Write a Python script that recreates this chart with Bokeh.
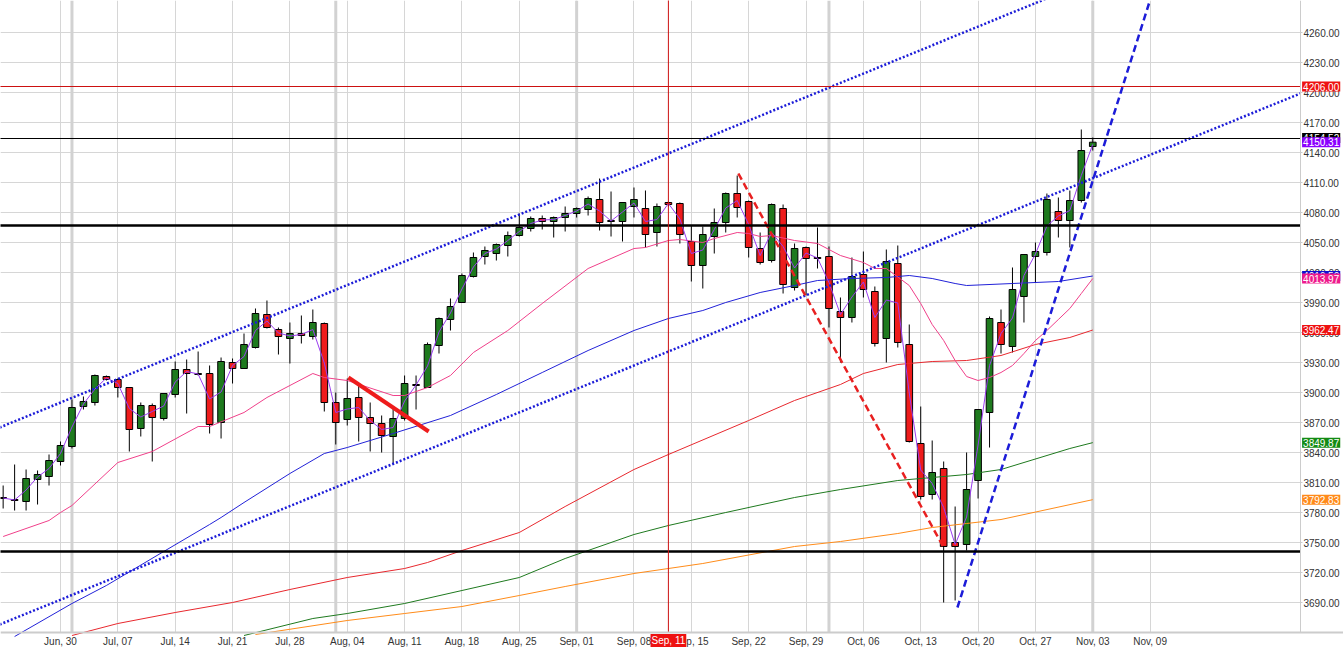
from bokeh.plotting import figure
from bokeh.models import (Range1d, FixedTicker, PrintfTickFormatter, Span, Label, ColumnDataSource,
                          LinearAxis, Grid, BoxAnnotation)
from bokeh.embed import file_html
from bokeh.resources import INLINE

# ---------------- data ----------------
# trading-day index (0 = Jun 30), weekdays only
days = list(range(-5, 91))
opens = [3795, 3793, 3791, 3813, 3816, 3831, 3846, 3886, 3890, 3916,
         3913, 3905, 3864, 3887, 3874, 3898, 3923, 3918, 3919, 3870,
         3930, 3924, 3945, 3978, 3963, 3954, 3959, 3956, 3969, 3890,
         3873, 3895, 3875, 3869, 3856, 3874, 3908, 3905, 3947, 3973,
         3990, 4016, 4036, 4039, 4047, 4057, 4064, 4074, 4071, 4075,
         4079, 4083, 4093, 4072, 4071, 4086, 4084, 4060, 4090, 4089,
         4051, 4027, 4056, 4070, 4099, 4091, 4044, 4032, 4084, 4005,
         4045, 4035, 4036, 3981, 3975, 4018, 4001, 3954, 4029, 3948,
         3849, 3798, 3824, 3750, 3748, 3812, 3880, 3970, 3946, 3996,
         4036, 4040, 4081, 4072, 4092, 4146]
highs = [3807, 3828, 3823, 3822, 3838, 3851, 3893, 3896, 3918, 3917,
         3914, 3905, 3890, 3889, 3899, 3931, 3933, 3941, 3927, 3935,
         3934, 3959, 3984, 3992, 3965, 3970, 3977, 3983, 3970, 3900,
         3914, 3909, 3890, 3877, 3886, 3917, 3917, 3950, 3975, 3994,
         4019, 4040, 4046, 4049, 4061, 4079, 4076, 4077, 4076, 4086,
         4085, 4096, 4114, 4101, 4090, 4105, 4102, 4089, 4091, 4090,
         4067, 4066, 4084, 4100, 4117, 4092, 4060, 4089, 4088, 4049,
         4046, 4065, 4046, 3995, 4035, 4041, 4006, 4043, 4047, 3968,
         3886, 3852, 3831, 3786, 3840, 3883, 3976, 3983, 4025, 4038,
         4050, 4099, 4095, 4102, 4163, 4155]
lows = [3784, 3782, 3782, 3788, 3807, 3827, 3844, 3883, 3887, 3912,
        3895, 3841, 3856, 3831, 3872, 3895, 3879, 3917, 3859, 3854,
        3909, 3924, 3944, 3964, 3938, 3929, 3949, 3953, 3881, 3848,
        3867, 3851, 3841, 3840, 3828, 3872, 3883, 3905, 3939, 3962,
        3990, 4015, 4028, 4032, 4036, 4056, 4061, 4063, 4055, 4061,
        4075, 4077, 4062, 4056, 4051, 4075, 4045, 4046, 4086, 4049,
        4011, 4004, 4039, 4060, 4075, 4035, 4028, 4030, 3999, 4002,
        3997, 4024, 3965, 3930, 3970, 3995, 3946, 3930, 3945, 3850,
        3793, 3793, 3690, 3692, 3742, 3794, 3845, 3939, 3940, 3970,
        4010, 4037, 4055, 4045, 4090, 4142]
closes = [3794, 3792, 3814, 3818, 3832, 3847, 3885, 3891, 3917, 3913,
          3905, 3863, 3887, 3875, 3899, 3923, 3919, 3919, 3868, 3931,
          3924, 3948, 3979, 3965, 3956, 3959, 3957, 3970, 3890, 3870,
          3894, 3875, 3869, 3857, 3874, 3909, 3907, 3948, 3974, 3986,
          4017, 4035, 4042, 4048, 4057, 4065, 4074, 4071, 4075, 4079,
          4084, 4094, 4070, 4071, 4090, 4093, 4058, 4086, 4088, 4058,
          4027, 4058, 4070, 4099, 4085, 4045, 4030, 4088, 4008, 4044,
          4034, 4034, 3984, 3975, 4016, 4003, 3949, 4031, 3950, 3851,
          3796, 3820, 3746, 3746, 3803, 3883, 3974, 3948, 4003, 4038,
          4041, 4093, 4072, 4092, 4142, 4150.31]

# moving averages (day index, value)
ma_pink_days = [-5, -1, 0, 1, 5, 8, 12, 13, 16, 18, 22, 23, 25, 29, 30, 32, 34, 36, 39, 42,
                46, 48, 50, 51, 53, 54, 56, 57, 59, 60, 61, 62, 64, 66, 68, 70, 71, 72, 74,
                75, 76, 77, 78, 79, 80, 81, 82, 83, 84, 85, 86, 87, 88, 89, 90]
ma_pink_vals = [3756, 3772, 3780, 3787, 3830, 3841, 3866, 3866, 3880, 3895, 3919, 3915, 3912,
                3897, 3897, 3905, 3917, 3940, 3962, 3989, 4024, 4034, 4044, 4045, 4052, 4053,
                4050, 4054, 4060, 4059, 4056, 4057, 4052, 4049, 4037, 4030, 4024, 4024, 4007,
                3989, 3968, 3952, 3932, 3916, 3912, 3915, 3920, 3927, 3939, 3952, 3962, 3973,
                3984, 3999, 4013.97]
ma_blue_days = [-4, 1, 4, 9, 13, 14, 16, 20, 23, 25, 29, 34, 38, 42, 46, 50, 53, 56, 58, 61,
                64, 66, 69, 72, 74, 76, 78, 79, 83, 87, 90]
ma_blue_vals = [3656, 3689, 3707, 3741, 3768, 3775, 3790, 3819, 3839, 3845, 3859, 3877, 3898,
                3920, 3942, 3962, 3974, 3982, 3990, 4000, 4007, 4012, 4014, 4015, 4017, 4014,
                4009, 4007, 4009, 4011, 4016.5]
ma_red_days = [1, 5, 10, 15, 20, 25, 30, 32, 35, 40, 44, 50, 53, 60, 64, 68, 70, 73, 76, 79,
               82, 85, 88, 90]
ma_red_vals = [3657, 3669, 3680, 3690, 3703, 3715, 3724, 3730, 3742, 3760, 3786, 3823, 3838,
               3872, 3892, 3908, 3919, 3928, 3931, 3932, 3937, 3948, 3955, 3962.47]
ma_green_days = [16, 22, 25, 30, 35, 40, 44, 46, 50, 53, 58, 64, 68, 73, 76, 79, 82, 88, 90]
ma_green_vals = [3657, 3674, 3679, 3689, 3702, 3715, 3734, 3742, 3758, 3767, 3780, 3795, 3803,
                 3812, 3815, 3818, 3823, 3844, 3849.87]
ma_orange_days = [17, 25, 30, 35, 40, 44, 50, 53, 56, 64, 68, 73, 76, 79, 82, 90]
ma_orange_vals = [3658, 3672, 3679, 3686, 3697, 3706, 3719, 3724, 3729, 3746, 3751, 3759, 3765,
                  3769, 3773, 3792.83]

# drawn trend lines (day index, value)
upper_channel_x = [-5.3, 108.1]
upper_channel_y = [3865, 4398]
lower_channel_x = [-5.3, 108.1]
lower_channel_y = [3668, 4199]
rally_line_x = [78.2, 94.9]
rally_line_y = [3685, 4289]
drop_line_x = [59.1, 77.0]
drop_line_y = [4119, 3745]
flag_line_x = [25.1, 32.1]
flag_line_y = [3915, 3861]

# horizontal levels
level_red = 4206
level_black_thin = 4154
levels_black_thick = [4067, 3741]
marker_day = 53

# axis ticks
week_ticks = [0, 5, 10, 15, 20, 25, 30, 35, 40, 45, 50, 55, 60, 65, 70, 75, 80, 85, 90, 95]
week_labels = ["Jun, 30", "Jul, 07", "Jul, 14", "Jul, 21", "Jul, 28", "Aug, 04", "Aug, 11",
               "Aug, 18", "Aug, 25", "Sep, 01", "Sep, 08", "Sep, 15", "Sep, 22", "Sep, 29",
               "Oct, 06", "Oct, 13", "Oct, 20", "Oct, 27", "Nov, 03", "Nov, 09"]
month_start_days = [1, 24, 45, 67, 90]
price_ticks = list(range(3690, 4261, 30))

# last-value tags on the price axis
tag_values = [4206.00, 4154.52, 4150.31, 4016.50, 4013.97, 3962.47, 3849.87, 3792.83]
tag_colors = ["#ee1111", "#000000", "#8a00ff", "#1010d0", "#ee1a8c", "#ee1111", "#138a13", "#ff8a1a"]

# ---------------- layout constants ----------------
W, H = 1343, 662
X_LO, X_HI = -5.231, 111.86      # whole canvas width, 11.47 px per day
Y_LO, Y_HI = 3630, 4292          # whole canvas height, 1 px per point
AXIS_X = 108.11                  # where the price axis sits
AXIS_Y = 3660                    # where the date axis sits
TAG_X = 108.25
FONT = "Liberation Sans"

p = figure(width=W, height=H, output_backend="svg", toolbar_location=None,
           x_range=Range1d(X_LO, X_HI), y_range=Range1d(Y_LO, Y_HI),
           x_axis_type=None, y_axis_type=None, min_border=0)
p.outline_line_color = None
p.background_fill_color = "white"

# grid
xgrid = Grid(dimension=0, ticker=FixedTicker(ticks=week_ticks), grid_line_color="#d6d6d6",
             level="image")
ygrid = Grid(dimension=1, ticker=FixedTicker(ticks=price_ticks), grid_line_color="#d6d6d6",
             level="image")
p.add_layout(xgrid)
p.add_layout(ygrid)
for d in month_start_days:
    p.add_layout(Span(location=d, dimension="height", line_color="#d2d2d2", line_width=3,
                      level="image"))
# blank margins right of / below the axes
p.add_layout(BoxAnnotation(left=AXIS_X, fill_color="white", fill_alpha=1.0, line_color=None,
                           level="underlay"))
p.add_layout(BoxAnnotation(top=AXIS_Y, fill_color="white", fill_alpha=1.0, line_color=None,
                           level="underlay"))

# axes
xa = LinearAxis(fixed_location=AXIS_Y, ticker=FixedTicker(ticks=week_ticks))
xa.major_label_overrides = {t: l for t, l in zip(week_ticks, week_labels)}
xa.major_tick_line_color = None
xa.minor_tick_line_color = None
xa.axis_line_color = "#cccccc"
xa.axis_line_width = 2
xa.major_label_text_font = FONT
xa.major_label_text_font_size = "10px"
xa.major_label_text_color = "#333333"
xa.major_label_standoff = -3
p.add_layout(xa, "below")

ya = LinearAxis(fixed_location=AXIS_X, ticker=FixedTicker(ticks=price_ticks),
                formatter=PrintfTickFormatter(format="%.2f"), bounds=(AXIS_Y, Y_HI))
ya.major_tick_out = 2
ya.major_tick_in = 0
ya.major_tick_line_color = "#cccccc"
ya.minor_tick_line_color = None
ya.axis_line_color = "#cccccc"
ya.major_label_text_font = FONT
ya.major_label_text_font_size = "10px"
ya.major_label_text_color = "#333333"
ya.major_label_standoff = 1
p.add_layout(ya, "right")

# candles
body_top = [max(o, c) for o, c in zip(opens, closes)]
body_bot = [min(o, c) for o, c in zip(opens, closes)]
body_col = ["#1e7a1e" if c >= o else "#ee1c1c" for o, c in zip(opens, closes)]
src = ColumnDataSource(dict(x=days, top=body_top, bottom=body_bot, high=highs, low=lows,
                            color=body_col))
p.segment(x0="x", y0="low", x1="x", y1="high", source=src, line_color="black", line_width=1)
p.vbar(x="x", top="top", bottom="bottom", width=0.58, source=src, fill_color="color",
       line_color="black", line_width=1)

# moving averages
p.line(ma_orange_days, ma_orange_vals, line_color="#ff8c1a", line_width=1)
p.line(ma_green_days, ma_green_vals, line_color="#1f7a1f", line_width=1)
p.line(ma_red_days, ma_red_vals, line_color="#e8282e", line_width=1)
p.line(ma_blue_days, ma_blue_vals, line_color="#2222d8", line_width=1)
p.line(ma_pink_days, ma_pink_vals, line_color="#f0408a", line_width=1)
mid = [(o + c) / 2 for o, c in zip(opens, closes)]
p.line(days, mid, line_color="#9a3cf0", line_width=1)

# trend lines
p.line(upper_channel_x, upper_channel_y, line_color="#1c1cd8", line_width=2.5, line_dash="2 2")
p.line(lower_channel_x, lower_channel_y, line_color="#1c1cd8", line_width=2.5, line_dash="2 2")
p.line(rally_line_x, rally_line_y, line_color="#1c1cd8", line_width=2.5, line_dash="7 4")
p.line(drop_line_x, drop_line_y, line_color="#e82020", line_width=2.5, line_dash="7 4")
p.line(flag_line_x, flag_line_y, line_color="#ee1c1c", line_width=4)

# horizontal / vertical levels (stop at the price axis)
p.segment(x0=[X_LO - 1], y0=[level_red], x1=[AXIS_X], y1=[level_red],
          line_color="#cc1111", line_width=1)
p.segment(x0=[X_LO - 1], y0=[level_black_thin], x1=[AXIS_X], y1=[level_black_thin],
          line_color="black", line_width=1)
p.segment(x0=[X_LO - 1] * len(levels_black_thick), y0=levels_black_thick,
          x1=[AXIS_X] * len(levels_black_thick), y1=levels_black_thick,
          line_color="black", line_width=2.5)
p.segment(x0=[marker_day], y0=[AXIS_Y], x1=[marker_day], y1=[Y_HI + 1],
          line_color="#cc1111", line_width=1)

# value tags on the price axis
for v, c in zip(tag_values, tag_colors):
    p.add_layout(Label(x=TAG_X, y=v, text="%.2f" % v, text_align="left",
                       text_baseline="middle", text_font=FONT, text_font_size="10px",
                       text_color="white", background_fill_color=c, background_fill_alpha=1.0,
                       padding=1))

# crosshair date tag
p.add_layout(Label(x=marker_day, y=3652, text="Sep, 11", text_align="center",
                   text_baseline="middle", text_font=FONT, text_font_size="10px",
                   text_color="white", background_fill_color="#ee1111",
                   background_fill_alpha=1.0, padding=1))

open("out.html", "w").write(file_html(p, INLINE))
